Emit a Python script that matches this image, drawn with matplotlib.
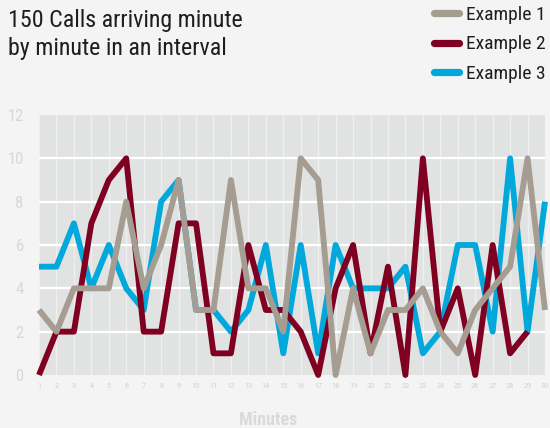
import matplotlib
matplotlib.use("Agg")
import matplotlib.pyplot as plt
from matplotlib import font_manager

minutes = list(range(1, 31))

# calls per minute, three sample intervals
example_1 = [3, 2, 4, 4, 4, 8, 4, 6, 9, 3, 3, 9, 4, 4, 2,
             10, 9, 0, 4, 1, 3, 3, 4, 2, 1, 3, 4, 5, 10, 3]
example_2 = [0, 2, 2, 7, 9, 10, 2, 2, 7, 7, 1, 1, 6, 3, 3,
             2, 0, 4, 6, 1, 5, 0, 10, 2, 4, 0, 6, 1, 2]
example_3 = [5, 5, 7, 4, 6, 4, 3, 8, 9, 3, 3, 2, 3, 6, 1,
             6, 1, 6, 4, 4, 4, 5, 1, 2, 6, 6, 2, 10, 2, 8]

series_names = ["Example 1", "Example 2", "Example 3"]
series_colors = ["#a59c92", "#800022", "#00a8dc"]
y_ticks = [0, 2, 4, 6, 8, 10, 12]

# pick a narrow face if one is installed
fonts = [(f.name, f.stretch) for f in font_manager.fontManager.ttflist]
names = {n for n, _ in fonts}
stretch = "normal"
if "Liberation Sans Narrow" in names:
    family = "Liberation Sans Narrow"
elif "Roboto Condensed" in names:
    family = "Roboto Condensed"
elif ("DejaVu Sans", "condensed") in fonts or ("DejaVu Sans", 500) in fonts:
    family, stretch = "DejaVu Sans", "condensed"
else:
    family = "Roboto"
plt.rcParams["font.family"] = [family, "DejaVu Sans"]
plt.rcParams["font.stretch"] = stretch

bg = "#f3f4f3"
fig = plt.figure(figsize=(5.5, 4.28), dpi=100, facecolor=bg)
ax = fig.add_axes([39 / 550, 53 / 428, 506 / 550, 260 / 428])
ax.set_facecolor("#e1e2e2")

# white grid: every minute vertically, every 2 calls horizontally
for x in minutes:
    ax.axvline(x, color="#efefef", lw=1.0, zorder=1)
for y in y_ticks[1:-1]:
    ax.axhline(y, color="white", lw=1.6, zorder=1)

data = [example_1, example_2, example_3]
handles = [None] * 3
for i in [2, 1, 0]:
    vals = data[i]
    ln, = ax.plot(minutes[:len(vals)], vals, color=series_colors[i], lw=4.2,
                  solid_joinstyle="round", solid_capstyle="butt",
                  clip_on=False, zorder=3 + (2 - i))
    handles[i] = ln

ax.set_xlim(1, 30)
ax.set_ylim(0, 12)
ax.set_xticks(minutes)
ax.set_xticklabels([str(m) for m in minutes], fontsize=6, color="#d2d4d4")
ax.set_yticks(y_ticks)
ax.set_yticklabels([str(t) for t in y_ticks], fontsize=12, color="#d6d9d9")
ax.tick_params(axis="x", length=0, pad=6)
ax.tick_params(axis="y", length=0, pad=11)
for s in ax.spines.values():
    s.set_visible(False)

fig.text(8 / 550, 1 - 9 / 428, "150 Calls arriving minute\nby minute in an interval",
         fontsize=17.3, color="#1e1e1e", ha="left", va="top", linespacing=1.25)

fig.text(268 / 550, 1 - 420 / 428, "Minutes", fontsize=13, fontweight="bold",
         color="#d9dbdb", ha="center", va="center")

leg_handles = [plt.Line2D([], [], color=c, lw=5.2, solid_capstyle="round")
               for c in series_colors]
fig.legend(leg_handles, series_names, loc="upper left",
           bbox_to_anchor=(434 / 550, 1 - 6 / 428), frameon=False,
           fontsize=14, handlelength=1.29, handletextpad=0.33,
           labelspacing=0.59, borderaxespad=0, borderpad=0,
           labelcolor="#1e1e1e")

fig.savefig("out.png", dpi=100, facecolor=bg)
